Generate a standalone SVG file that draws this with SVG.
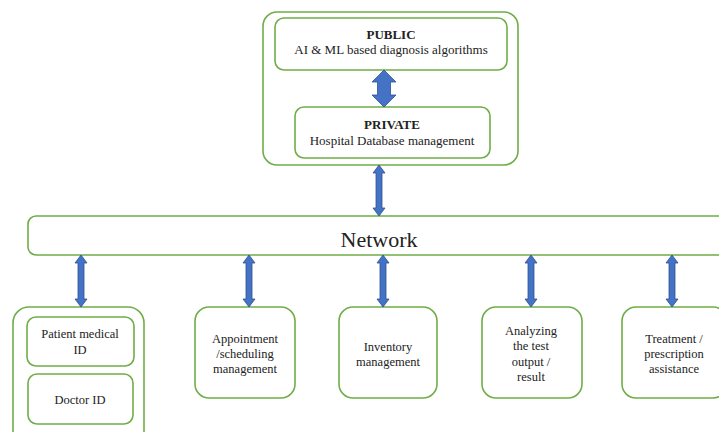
<svg xmlns="http://www.w3.org/2000/svg" width="719" height="432" viewBox="0 0 719 432">
<style>
.box{fill:#fff;stroke:#70AD47;stroke-width:1.6}
.arr{fill:#4472C4;stroke:#2F528F;stroke-width:0.8}
text{fill:#222;text-anchor:middle}
.t{font-size:12.5px}
.tt{font-size:13px}
.b{font-weight:bold}
</style>
<rect width="719" height="432" fill="#fff"/>
<g font-family="Liberation Serif, DejaVu Serif, serif">
<g id="cloud">
<rect class="box" x="263" y="12" width="255" height="153" rx="14"/>
</g>
<g id="public">
<rect class="box" x="275" y="18" width="232" height="52" rx="9"/>
<text class="tt b" x="391" y="39">PUBLIC</text>
<text class="tt" x="391" y="54">AI &amp; ML based diagnosis algorithms</text>
</g>
<g id="private">
<rect class="box" x="295" y="107" width="195" height="51" rx="9"/>
<text class="tt b" x="392" y="129">PRIVATE</text>
<text class="tt" x="392" y="145">Hospital Database management</text>
</g>
<g id="network">
<rect class="box" x="28" y="216" width="720" height="39" rx="8"/>
<text x="379" y="247" style="font-size:22px">Network</text>
</g>
<g id="ids">
<rect class="box" x="13" y="307" width="131" height="145" rx="16"/>
</g>
<g id="patient">
<rect class="box" x="27" y="317" width="107" height="49" rx="9"/>
<text class="t" x="80" y="338">Patient medical</text>
<text class="t" x="80" y="354">ID</text>
</g>
<g id="doctor">
<rect class="box" x="28" y="374" width="105" height="50" rx="9"/>
<text class="t" x="80" y="404">Doctor ID</text>
</g>
<g id="appointment">
<rect class="box" x="195" y="307" width="100" height="91" rx="14"/>
<text class="t" x="245" y="343">Appointment</text>
<text class="t" x="245" y="358">/scheduling</text>
<text class="t" x="245" y="373">management</text>
</g>
<g id="inventory">
<rect class="box" x="339" y="307" width="98" height="91" rx="14"/>
<text class="t" x="388" y="351">Inventory</text>
<text class="t" x="388" y="366">management</text>
</g>
<g id="analyzing">
<rect class="box" x="482" y="307" width="100" height="91" rx="14"/>
<text class="t" x="531" y="335">Analyzing</text>
<text class="t" x="531" y="350">the test</text>
<text class="t" x="531" y="366">output /</text>
<text class="t" x="531" y="381">result</text>
</g>
<g id="treatment">
<rect class="box" x="622" y="307" width="105" height="91" rx="14"/>
<text class="t" x="674" y="343">Treatment /</text>
<text class="t" x="674" y="358">prescription</text>
<text class="t" x="674" y="373">assistance</text>
</g>
</g>
<g id="connectors">
<path class="arr" d="M384,70 L396,82 L390.5,82 L390.5,95 L396,95 L384,107 L372,95 L377.5,95 L377.5,82 L372,82 Z"/>
<path class="arr" d="M379,165 L385,173 L382,173 L382,208 L385,208 L379,216 L373,208 L376,208 L376,173 L373,173 Z"/>
<path class="arr" d="M81,255 L87,263 L84,263 L84,299 L87,299 L81,307 L75,299 L78,299 L78,263 L75,263 Z"/>
<path class="arr" d="M249,255 L255,263 L252,263 L252,299 L255,299 L249,307 L243,299 L246,299 L246,263 L243,263 Z"/>
<path class="arr" d="M383,255 L389,263 L386,263 L386,299 L389,299 L383,307 L377,299 L380,299 L380,263 L377,263 Z"/>
<path class="arr" d="M531,255 L537,263 L534,263 L534,299 L537,299 L531,307 L525,299 L528,299 L528,263 L525,263 Z"/>
<path class="arr" d="M672,255 L678,263 L675,263 L675,299 L678,299 L672,307 L666,299 L669,299 L669,263 L666,263 Z"/>
</g>
</svg>
